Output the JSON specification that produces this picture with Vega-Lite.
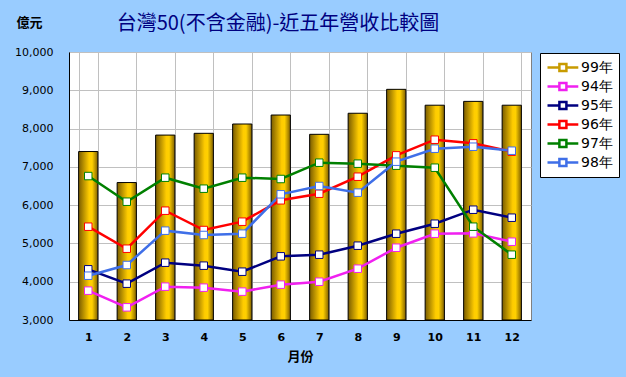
{
  "$schema": "https://vega.github.io/schema/vega-lite/v6.json",
  "autosize": {"type": "none"},
  "width": 462,
  "height": 268,
  "padding": {"left": 69, "top": 52, "right": 95, "bottom": 57},
  "background": "#99CCFF",
  "title": {
    "text": "台灣50(不含金融)-近五年營收比較圖",
    "color": "#000080",
    "font": "Noto Sans CJK TC",
    "fontSize": 20,
    "fontWeight": "normal",
    "anchor": "middle",
    "dx": -22,
    "offset": -18
  },
  "config": {
    "view": {"fill": "white", "stroke": "#808080", "strokeWidth": 1},
    "axis": {"labelFont": "DejaVu Sans", "titleFont": "Noto Sans CJK TC"}
  },
  "data": {
    "values": [
      {"month": 1, "series": "99年", "value": 7400},
      {"month": 2, "series": "99年", "value": 6590},
      {"month": 3, "series": "99年", "value": 7830},
      {"month": 4, "series": "99年", "value": 7876},
      {"month": 5, "series": "99年", "value": 8119},
      {"month": 6, "series": "99年", "value": 8354},
      {"month": 7, "series": "99年", "value": 7850},
      {"month": 8, "series": "99年", "value": 8400},
      {"month": 9, "series": "99年", "value": 9025},
      {"month": 10, "series": "99年", "value": 8610},
      {"month": 11, "series": "99年", "value": 8710},
      {"month": 12, "series": "99年", "value": 8610},
      {"month": 1, "series": "94年", "value": 3766},
      {"month": 2, "series": "94年", "value": 3331},
      {"month": 3, "series": "94年", "value": 3871},
      {"month": 4, "series": "94年", "value": 3845},
      {"month": 5, "series": "94年", "value": 3741},
      {"month": 6, "series": "94年", "value": 3923},
      {"month": 7, "series": "94年", "value": 4000},
      {"month": 8, "series": "94年", "value": 4340},
      {"month": 9, "series": "94年", "value": 4888},
      {"month": 10, "series": "94年", "value": 5254},
      {"month": 11, "series": "94年", "value": 5263},
      {"month": 12, "series": "94年", "value": 5045},
      {"month": 1, "series": "95年", "value": 4324},
      {"month": 2, "series": "95年", "value": 3949},
      {"month": 3, "series": "95年", "value": 4497},
      {"month": 4, "series": "95年", "value": 4419},
      {"month": 5, "series": "95年", "value": 4262},
      {"month": 6, "series": "95年", "value": 4663},
      {"month": 7, "series": "95年", "value": 4706},
      {"month": 8, "series": "95年", "value": 4941},
      {"month": 9, "series": "95年", "value": 5254},
      {"month": 10, "series": "95年", "value": 5515},
      {"month": 11, "series": "95年", "value": 5881},
      {"month": 12, "series": "95年", "value": 5672},
      {"month": 1, "series": "96年", "value": 5437},
      {"month": 2, "series": "96年", "value": 4862},
      {"month": 3, "series": "96年", "value": 5855},
      {"month": 4, "series": "96年", "value": 5350},
      {"month": 5, "series": "96年", "value": 5568},
      {"month": 6, "series": "96年", "value": 6126},
      {"month": 7, "series": "96年", "value": 6299},
      {"month": 8, "series": "96年", "value": 6743},
      {"month": 9, "series": "96年", "value": 7300},
      {"month": 10, "series": "96年", "value": 7709},
      {"month": 11, "series": "96年", "value": 7614},
      {"month": 12, "series": "96年", "value": 7396},
      {"month": 1, "series": "97年", "value": 6760},
      {"month": 2, "series": "97年", "value": 6090},
      {"month": 3, "series": "97年", "value": 6717},
      {"month": 4, "series": "97年", "value": 6430},
      {"month": 5, "series": "97年", "value": 6717},
      {"month": 6, "series": "97年", "value": 6683},
      {"month": 7, "series": "97年", "value": 7109},
      {"month": 8, "series": "97年", "value": 7083},
      {"month": 9, "series": "97年", "value": 7031},
      {"month": 10, "series": "97年", "value": 6978},
      {"month": 11, "series": "97年", "value": 5437},
      {"month": 12, "series": "97年", "value": 4706},
      {"month": 1, "series": "98年", "value": 4157},
      {"month": 2, "series": "98年", "value": 4436},
      {"month": 3, "series": "98年", "value": 5333},
      {"month": 4, "series": "98年", "value": 5220},
      {"month": 5, "series": "98年", "value": 5255},
      {"month": 6, "series": "98年", "value": 6283},
      {"month": 7, "series": "98年", "value": 6500},
      {"month": 8, "series": "98年", "value": 6326},
      {"month": 9, "series": "98年", "value": 7135},
      {"month": 10, "series": "98年", "value": 7474},
      {"month": 11, "series": "98年", "value": 7526},
      {"month": 12, "series": "98年", "value": 7422}
    ]
  },
  "encoding": {
    "x": {
      "field": "month",
      "type": "ordinal",
      "sort": "ascending",
      "scale": {"paddingInner": 0.5, "paddingOuter": 0.25},
      "axis": {
        "title": "月份",
        "titleFontSize": 13,
        "titleFontWeight": "bold",
        "titleColor": "#000000",
        "titlePadding": 8,
        "labelAngle": 0,
        "labelFontSize": 11,
        "labelFontWeight": "bold",
        "labelColor": "#000000",
        "labelPadding": 11,
        "ticks": false,
        "tickSize": 0,
        "tickBand": "extent",
        "grid": true,
        "gridColor": "#C0C0C0",
        "gridWidth": 1,
        "domainColor": "#000000",
        "domainWidth": 1
      }
    },
    "y": {
      "field": "value",
      "type": "quantitative",
      "scale": {"domain": [3000, 10000], "zero": false, "nice": false},
      "axis": {
        "title": "億元",
        "titleAngle": 0,
        "titleX": -40,
        "titleY": -30,
        "titleAlign": "center",
        "titleBaseline": "middle",
        "titleFontSize": 13,
        "titleFontWeight": "bold",
        "titleColor": "#000000",
        "values": [3000, 4000, 5000, 6000, 7000, 8000, 9000, 10000],
        "format": ",.0f",
        "labelFontSize": 11,
        "labelColor": "#000000",
        "labelPadding": 16,
        "ticks": false,
        "tickSize": 0,
        "grid": true,
        "gridColor": "#C0C0C0",
        "gridWidth": 1,
        "domainColor": "#000000",
        "domainWidth": 1
      }
    }
  },
  "layer": [
    {
      "transform": [{"filter": "datum.series === '99年'"}],
      "mark": {"type": "bar", "strokeWidth": 1, "stroke": "#000000",
        "fill": {"gradient": "linear", "x1": 0, "x2": 1, "y1": 0, "y2": 0, "stops": [{"offset": 0, "color": "#7A5C00"}, {"offset": 0.55, "color": "#FFCC00"}, {"offset": 0.7, "color": "#FFD000"}, {"offset": 1, "color": "#806000"}]}},
      "encoding": {
        "y2": {"datum": 3000}
      }
    },
    {
      "transform": [{"filter": "datum.series !== '99年'"}],
      "mark": {"type": "line", "strokeWidth": 2.5},
      "encoding": {
        "color": {
          "field": "series",
          "type": "nominal",
          "scale": {
            "domain": ["99年", "94年", "95年", "96年", "97年", "98年"],
            "range": ["#C89B00", "#F020F0", "#000080", "#FF0000", "#008000", "#3F6FE8"]
          },
          "legend": {
            "title": null,
            "orient": "none",
            "legendX": 471,
            "legendY": 1,
            "fillColor": "white",
            "strokeColor": "#000000",
            "padding": 6,
            "labelFont": "DejaVu Sans",
            "labelFontSize": 14,
            "labelColor": "#000000",
            "labelOffset": 18,
            "rowPadding": 2,
            "symbolSize": 196,
            "symbolStrokeWidth": 2.5,
            "symbolFillColor": "white",
            "symbolType": "M-1,0H0.7M1.7,0H3.4M0.7,-0.5H1.7V0.5H0.7Z"
          }
        }
      }
    },
    {
      "transform": [{"filter": "datum.series !== '99年'"}],
      "mark": {"type": "point", "shape": "square", "filled": false, "fill": "white", "size": 56, "strokeWidth": 1, "opacity": 1},
      "encoding": {
        "color": {"field": "series", "type": "nominal"}
      }
    }
  ]
}
